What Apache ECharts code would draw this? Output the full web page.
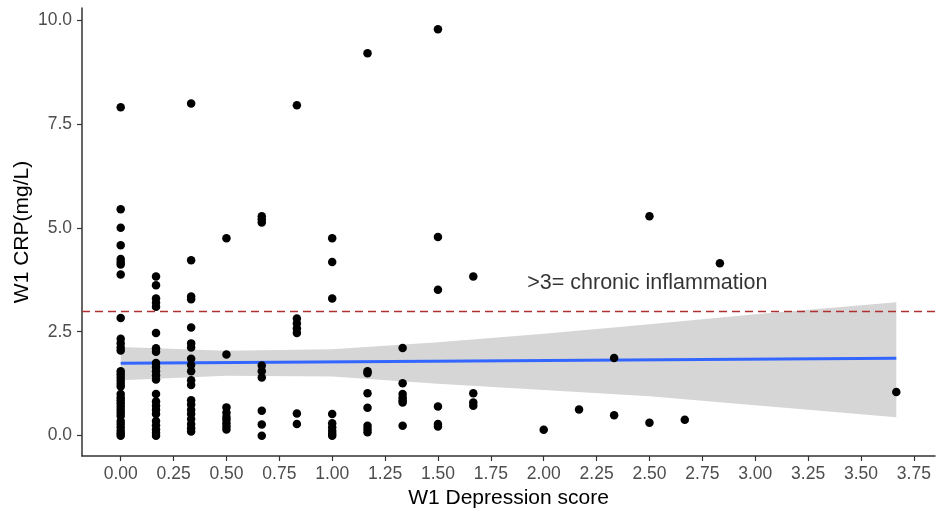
<!DOCTYPE html>
<html>
<head>
<meta charset="utf-8">
<script src="https://cdn.jsdelivr.net/npm/echarts@6/dist/echarts.min.js"></script>
<style>
  html, body { margin: 0; padding: 0; background: #fff; }
  #chart { width: 939px; height: 517px; }
</style>
</head>
<body>
<div id="chart"></div>
<script>
// depression score levels (x) and the CRP values seen at each level
const scoreLevels = [0, 0.167, 0.333, 0.5, 0.667, 0.833, 1.0, 1.167, 1.333, 1.5, 1.667, 2.0, 2.167, 2.333, 2.5, 2.667, 2.833, 3.667];
const crpAtScore = [
  [7.9, 5.45, 5.0, 4.58, 4.25, 4.18, 4.12, 3.88, 2.83, 2.33, 2.22, 2.12, 2.05, 1.55, 1.48, 1.4, 1.32, 1.25, 1.18, 1.0, 0.92, 0.85, 0.78, 0.7, 0.62, 0.55, 0.47, 0.35, 0.28, 0.2, 0.12, 0.06, 0.0],
  [3.83, 3.62, 3.3, 3.2, 3.1, 2.47, 2.1, 2.02, 1.75, 1.65, 1.55, 1.45, 1.35, 1.0, 0.82, 0.72, 0.62, 0.52, 0.35, 0.25, 0.15, 0.07, 0.0],
  [7.99, 4.22, 3.35, 3.28, 2.6, 2.22, 2.12, 1.85, 1.7, 1.55, 1.33, 1.22, 0.85, 0.75, 0.62, 0.52, 0.4, 0.28, 0.18, 0.1],
  [4.75, 1.95, 0.68, 0.55, 0.45, 0.38, 0.3, 0.22, 0.15],
  [5.28, 5.2, 5.13, 1.69, 1.55, 1.4, 0.6, 0.27, 0.0],
  [7.95, 2.82, 2.7, 2.58, 2.47, 0.53, 0.28],
  [4.75, 4.18, 3.3, 0.52, 0.3, 0.2, 0.12, 0.05, 0.0],
  [9.2, 1.55, 1.5, 1.02, 0.67, 0.24, 0.16, 0.08],
  [2.11, 1.26, 1.0, 0.92, 0.85, 0.8, 0.24],
  [9.78, 4.78, 3.51, 0.7, 0.28, 0.22],
  [3.83, 1.02, 0.8, 0.72],
  [0.14],
  [0.63],
  [1.87, 0.49],
  [5.28, 0.31],
  [0.38],
  [4.15],
  [1.05]
];

// linear fit and its confidence band
const fitX = [0, 3.667];
const fitY = [1.74, 1.86];
const bandX = [0, 0.5, 1.0, 1.5, 2.0, 2.5, 3.0, 3.667];
const bandUpper = [2.13, 2.04, 2.08, 2.25, 2.45, 2.68, 2.92, 3.21];
const bandLower = [1.33, 1.44, 1.42, 1.25, 1.1, 0.95, 0.73, 0.44];

const cutoff = 3;
const annotText = '>3= chronic inflammation';
const annotX = 2.49;
const annotY = 3.66;

const xTicks = [0, 0.25, 0.5, 0.75, 1.0, 1.25, 1.5, 1.75, 2.0, 2.25, 2.5, 2.75, 3.0, 3.25, 3.5, 3.75];
const yTicks = [0, 2.5, 5.0, 7.5, 10.0];

const points = [];
scoreLevels.forEach((s, i) => {
  crpAtScore[i].forEach(v => points.push([s, v]));
});

const font = 'Liberation Sans, Arial, sans-serif';
const chart = echarts.init(document.getElementById('chart'));

chart.setOption({
  animation: false,
  textStyle: { fontFamily: font },
  grid: { left: 82, right: 4, top: 8, bottom: 61, containLabel: false },
  xAxis: {
    type: 'value',
    min: -0.183,
    max: 3.85,
    name: 'W1 Depression score',
    nameLocation: 'middle',
    nameGap: 32,
    nameMoveOverlap: false,
    nameTextStyle: { fontSize: 21, color: '#000', fontFamily: font },
    axisLine: { show: true, onZero: false, lineStyle: { color: '#333', width: 1.5 } },
    axisTick: { show: true, length: 5, customValues: xTicks, lineStyle: { color: '#333', width: 1.2 } },
    axisLabel: { customValues: xTicks, formatter: v => v.toFixed(2), fontSize: 17.5, color: '#4d4d4d', margin: 9, fontFamily: font },
    splitLine: { show: false }
  },
  yAxis: {
    type: 'value',
    min: -0.49,
    max: 10.29,
    name: 'W1 CRP(mg/L)',
    nameLocation: 'middle',
    nameGap: 49,
    nameMoveOverlap: false,
    nameRotate: 90,
    nameTextStyle: { fontSize: 21, color: '#000', fontFamily: font },
    axisLine: { show: true, onZero: false, lineStyle: { color: '#333', width: 1.5 } },
    axisTick: { show: true, length: 5, customValues: yTicks, lineStyle: { color: '#333', width: 1.2 } },
    axisLabel: { customValues: yTicks, formatter: v => v.toFixed(1), fontSize: 17.5, color: '#4d4d4d', margin: 10, fontFamily: font },
    splitLine: { show: false }
  },
  series: [
    {
      type: 'custom',
      silent: true,
      z: 1,
      data: [[0, 0]],
      renderItem: (params, api) => {
        const pts = [];
        bandX.forEach((x, i) => pts.push(api.coord([x, bandUpper[i]])));
        for (let i = bandX.length - 1; i >= 0; i--) pts.push(api.coord([bandX[i], bandLower[i]]));
        return { type: 'polygon', shape: { points: pts }, style: { fill: '#d6d6d6' } };
      }
    },
    {
      type: 'line',
      silent: true,
      z: 2,
      showSymbol: false,
      data: fitX.map((x, i) => [x, fitY[i]]),
      lineStyle: { color: '#3366ff', width: 3 }
    },
    {
      type: 'scatter',
      z: 3,
      symbolSize: 8.5,
      itemStyle: { color: '#000', opacity: 1 },
      data: points,
      markLine: {
        silent: true,
        symbol: 'none',
        label: { show: false },
        lineStyle: { color: '#b03030', type: [8, 5], width: 1.3 },
        data: [{ yAxis: cutoff }]
      }
    },
    {
      type: 'scatter',
      silent: true,
      z: 4,
      symbolSize: 0,
      itemStyle: { color: '#000' },
      data: [[annotX, annotY]],
      label: {
        show: true,
        position: 'inside',
        formatter: annotText,
        fontSize: 21.5,
        color: '#000',
        textBorderWidth: 0,
        fontFamily: font
      }
    }
  ]
});
</script>
</body>
</html>
